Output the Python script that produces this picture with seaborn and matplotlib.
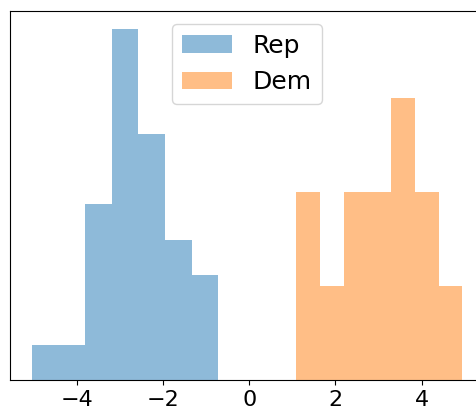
import matplotlib
matplotlib.use("Agg")
import matplotlib.pyplot as plt
import seaborn as sns
import numpy as np
import pandas as pd

# Binned party scores: bin layout and counts per bin
rep_start, rep_width = -5.05, 0.619
rep_counts = [1, 1, 5, 10, 7, 4, 3]

dem_start, dem_width = 1.09, 0.551
dem_counts = [2, 1, 2, 2, 3, 2, 1]

labels = ["Rep", "Dem"]
xticks = [-4, -2, 0, 2, 4]


def binned_frame(start, width, counts):
    n = len(counts)
    centers = start + width * (np.arange(n) + 0.5)
    return pd.DataFrame({"score": centers, "count": counts}), (start, start + width * n), n


fig = plt.figure(figsize=(4.77, 4.16), dpi=100)
ax = fig.add_axes([10 / 477, (416 - 380.3) / 416, 474 / 477, 369.3 / 416])

for (start, width, counts), label in zip(
    [(rep_start, rep_width, rep_counts), (dem_start, dem_width, dem_counts)], labels
):
    df, brange, nbins = binned_frame(start, width, counts)
    sns.histplot(
        data=df, x="score", weights="count", bins=nbins, binrange=brange,
        stat="density", alpha=0.5, linewidth=0, label=label, ax=ax,
    )

ax.set_xticks(xticks)
ax.set_xticklabels([f"{t}".replace("-", "\u2212") for t in xticks], fontsize=16)
ax.set_yticks([])
ax.set_xlabel("")
ax.set_ylabel("")
ax.legend(loc="upper center", fontsize=18)

fig.savefig("out.png", dpi=100)
